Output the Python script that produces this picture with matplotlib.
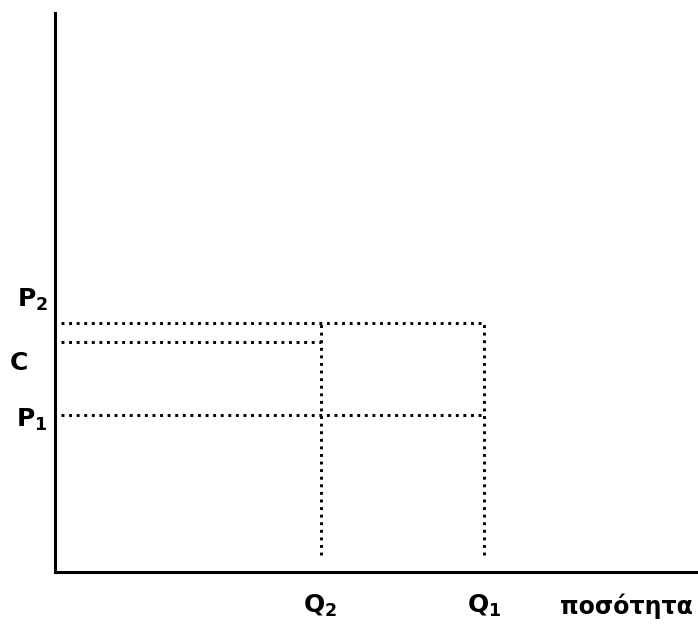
import matplotlib
matplotlib.use("Agg")
import matplotlib.pyplot as plt

# Values (in axis units 0..100)
Q2, Q1 = 41.3, 66.7
P2, C, P1 = 44.5, 41.1, 28.1
v_bottom = 3.0
labels_y = {"P2": r"$\mathbf{P_2}$", "C": r"$\mathbf{C}$", "P1": r"$\mathbf{P_1}$"}
labels_x = {"Q2": r"$\mathbf{Q_2}$", "Q1": r"$\mathbf{Q_1}$"}
x_title = "ποσότητα"

plt.rcParams['mathtext.fontset'] = 'dejavusans'
fig = plt.figure(figsize=(6.98, 6.32), dpi=100)
W, H = 698, 632
ax = fig.add_axes([55 / W, (H - 572) / H, (698 - 55) / W, (572 - 13) / H])
ax.set_xlim(0, 100)
ax.set_ylim(0, 100)
for s in ["top", "right"]:
    ax.spines[s].set_visible(False)
ax.spines["left"].set_linewidth(2.2)
ax.spines["bottom"].set_linewidth(2.2)
ax.set_xticks([])
ax.set_yticks([])

dot = dict(color="black", linewidth=2.1, linestyle=(0, (1, 1.6)), dash_capstyle="butt")
x0 = 0.9
ax.plot([x0, Q1], [P2, P2], **dot)
ax.plot([x0, Q2], [C, C], **dot)
ax.plot([x0, Q1], [P1, P1], **dot)
ax.plot([Q2, Q2], [v_bottom, P2], **dot)
ax.plot([Q1, Q1], [v_bottom, P2], **dot)

fs = 18
ax.text(-1.0, P2 + 4.2, labels_y["P2"], ha="right", va="center", fontsize=fs, clip_on=False)
ax.text(-4.3, C - 3.8, labels_y["C"], ha="right", va="center", fontsize=fs, clip_on=False)
ax.text(-1.1, P1 - 0.9, labels_y["P1"], ha="right", va="center", fontsize=fs, clip_on=False)
ax.text(Q2, -6.0, labels_x["Q2"], ha="center", va="center", fontsize=fs, clip_on=False)
ax.text(Q1, -6.0, labels_x["Q1"], ha="center", va="center", fontsize=fs, clip_on=False)
ax.text(78.5, -6.1, x_title, ha="left", va="center", fontsize=17, fontweight="bold",
        clip_on=False)

fig.savefig("out.png", dpi=100)
